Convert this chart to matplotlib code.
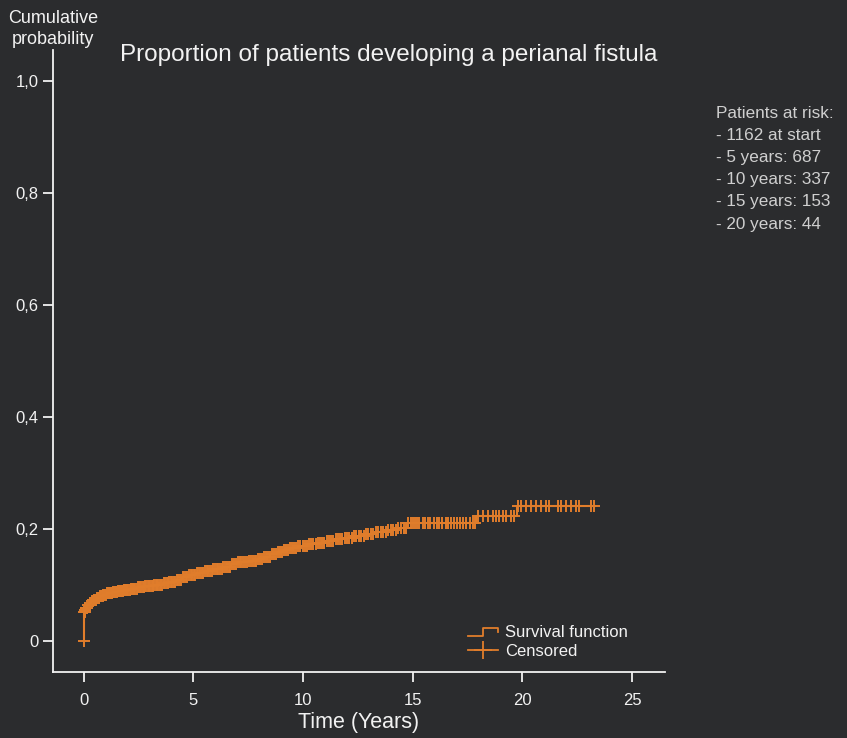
import numpy as np
import matplotlib
import matplotlib.pyplot as plt
from matplotlib.lines import Line2D
from matplotlib.legend_handler import HandlerBase

matplotlib.use('Agg')

BG = '#2b2c2e'
ORANGE = '#e07d2b'
FG = '#f2f2f2'

# Kaplan-Meier style cumulative incidence: step times (years) and value after each step
event_times = [0.0, 0.01, 0.05, 0.10, 0.17, 0.25, 0.35, 0.45, 0.60, 0.75, 0.90,
               1.05, 1.30, 1.55, 1.80, 2.10, 2.45, 2.80, 3.20, 3.60, 3.90,
               4.20, 4.50, 4.80, 5.10, 5.50, 5.90, 6.30, 6.70, 7.00, 7.50,
               7.90, 8.20, 8.50, 8.80, 9.10, 9.40, 9.75, 10.20, 10.60, 11.00,
               11.40, 11.90, 12.30, 12.80, 13.30, 13.80, 14.30, 14.75, 17.90, 19.76]
event_probs = [0.000, 0.052, 0.056, 0.060, 0.064, 0.068, 0.071, 0.074, 0.077, 0.080, 0.083,
               0.086, 0.088, 0.090, 0.092, 0.094, 0.096, 0.098, 0.100, 0.103, 0.106,
               0.110, 0.114, 0.118, 0.122, 0.126, 0.129, 0.133, 0.137, 0.141, 0.144,
               0.147, 0.151, 0.155, 0.159, 0.163, 0.167, 0.170, 0.173, 0.176, 0.179,
               0.182, 0.185, 0.188, 0.191, 0.194, 0.198, 0.202, 0.211, 0.223, 0.242]
end_time = 23.30

# censored follow-up times (years)
censored_times = [
    0.00, 0.02, 0.04, 0.06, 0.08, 0.10, 0.12, 0.15, 0.18, 0.21, 0.24, 0.27,
    0.30, 0.33, 0.36, 0.40, 0.43, 0.46, 0.50, 0.53, 0.57, 0.60, 0.64, 0.67,
    0.71, 0.75, 0.78, 0.82, 0.86, 0.90, 0.94, 0.98, 1.02, 1.06, 1.10, 1.15,
    1.19, 1.23, 1.28, 1.32, 1.37, 1.41, 1.46, 1.50, 1.55, 1.60, 1.64, 1.69,
    1.74, 1.79, 1.84, 1.89, 1.94, 1.99, 2.04, 2.09, 2.14, 2.20, 2.25, 2.30,
    2.36, 2.41, 2.47, 2.52, 2.58, 2.63, 2.69, 2.75, 2.80, 2.86, 2.92, 2.98,
    3.04, 3.10, 3.16, 3.22, 3.28, 3.34, 3.40, 3.46, 3.53, 3.59, 3.65, 3.72,
    3.78, 3.85, 3.91, 3.98, 4.04, 4.11, 4.18, 4.24, 4.31, 4.38, 4.45, 4.52,
    4.59, 4.66, 4.73, 4.80, 4.87, 4.94, 5.01, 5.08, 5.16, 5.23, 5.30, 5.38,
    5.45, 5.52, 5.60, 5.67, 5.75, 5.83, 5.90, 5.98, 6.06, 6.14, 6.21, 6.29,
    6.37, 6.45, 6.53, 6.61, 6.69, 6.78, 6.86, 6.94, 7.02, 7.11, 7.19, 7.27,
    7.36, 7.44, 7.53, 7.61, 7.70, 7.79, 7.87, 7.96, 8.05, 8.14, 8.22, 8.31,
    8.40, 8.49, 8.58, 8.67, 8.76, 8.85, 8.95, 9.04, 9.13, 9.22, 9.32, 9.41,
    9.50, 9.60, 9.69, 9.79, 9.88, 9.98, 10.08, 10.17, 10.27, 10.37, 10.47,
    10.57, 10.67, 10.77, 10.87, 10.97, 11.07, 11.17, 11.27, 11.38, 11.48,
    11.58, 11.69, 11.79, 11.90, 12.00, 12.11, 12.22, 12.32, 12.43, 12.54,
    12.65, 12.76, 12.87, 12.98, 13.09, 13.20, 13.31, 13.43, 13.54, 13.65,
    13.77, 13.88, 14.00, 14.11, 14.23, 14.35, 14.46, 14.58, 14.70,
    14.80, 14.90, 15.00, 15.10, 15.20, 15.30, 15.45, 15.55, 15.70, 15.80,
    15.95, 16.10, 16.20, 16.35, 16.50, 16.60, 16.75, 16.90, 17.00, 17.15,
    17.30, 17.45, 17.60, 17.75, 17.85, 17.96, 18.19, 18.41, 18.64, 18.79,
    18.94, 19.10, 19.25, 19.48, 19.63, 19.78, 19.93, 20.16, 20.39, 20.61,
    20.84, 21.07, 21.22, 21.60, 21.75, 21.98, 22.21, 22.44, 22.59, 23.12,
    23.27]

at_risk_labels = ['1162 at start', '5 years: 687', '10 years: 337',
                  '15 years: 153', '20 years: 44']

x_ticks = [0, 5, 10, 15, 20, 25]
y_ticks = [0, 0.2, 0.4, 0.6, 0.8, 1.0]
y_tick_labels = ['0', '0,2', '0,4', '0,6', '0,8', '1,0']


class StepHandler(HandlerBase):
    """Legend key drawn as a small step."""
    def create_artists(self, legend, orig_handle, xdescent, ydescent,
                       width, height, fontsize, trans):
        xs = [0, width * 0.5, width * 0.5, width, width]
        ys = [height * 0.1, height * 0.1, height * 0.8, height * 0.8, height * 0.45]
        line = Line2D(xs, ys, color=ORANGE, lw=1.3, transform=trans)
        return [line]


plt.rcParams['font.family'] = ['Liberation Sans', 'DejaVu Sans']

fig = plt.figure(figsize=(8.47, 7.38), dpi=100, facecolor=BG)
ax = fig.add_axes([0.0626, 0.0894, 0.7225, 0.8428], facecolor=BG)

t = np.array(event_times + [end_time])
p = np.array(event_probs + [event_probs[-1]])
ax.step(t, p, where='post', color=ORANGE, lw=1.5, zorder=3)

c = np.array(censored_times)
idx = np.searchsorted(np.array(event_times), c, side='right') - 1
idx[c == 0] = 0
cy = np.array(event_probs)[idx]
ax.plot(c, cy, linestyle='none', marker='+', markersize=8.5, mew=1.4,
        color=ORANGE, zorder=4)

ax.set_xlim(-1.4, 26.5)
ax.set_ylim(-0.055, 1.055)
ax.set_xticks(x_ticks)
ax.set_yticks(y_ticks)
ax.set_yticklabels(y_tick_labels)

for side in ['top', 'right']:
    ax.spines[side].set_visible(False)
for side in ['left', 'bottom']:
    ax.spines[side].set_color(FG)
    ax.spines[side].set_linewidth(1.3)

ax.tick_params(axis='both', colors=FG, labelsize=12, width=1.3, length=7,
               direction='out')
ax.tick_params(axis='x', pad=8)
ax.tick_params(axis='y', pad=3.5)
for lab in ax.get_xticklabels() + ax.get_yticklabels():
    lab.set_color(FG)

ax.set_xlabel('Time (Years)', color=FG, fontsize=15.5, labelpad=3)
fig.text(0.063, 0.986, 'Cumulative\nprobability', color=FG, fontsize=13,
         ha='center', va='top', linespacing=1.25)
fig.text(0.459, 0.9255, 'Proportion of patients developing a perianal fistula',
         color=FG, fontsize=17.5, ha='center', va='center')

risk_text = 'Patients at risk:\n' + '\n'.join('- ' + s for s in at_risk_labels)
fig.text(0.845, 0.857, risk_text, color='#cfcfcf', fontsize=12.3,
         ha='left', va='top', linespacing=1.6)

handles = [Line2D([], [], color=ORANGE),
           Line2D([], [], color=ORANGE, lw=1.3, marker='+', markersize=13, mew=1.3)]
leg = ax.legend(handles, ['Survival function', 'Censored'],
                handler_map={handles[0]: StepHandler()},
                loc='upper left', bbox_to_anchor=(0.678, 0.075), frameon=False,
                borderpad=0, borderaxespad=0,
                fontsize=12, labelcolor=FG, handlelength=1.8, handletextpad=0.45,
                labelspacing=0.2)

fig.savefig('out.png', dpi=100, facecolor=BG)
